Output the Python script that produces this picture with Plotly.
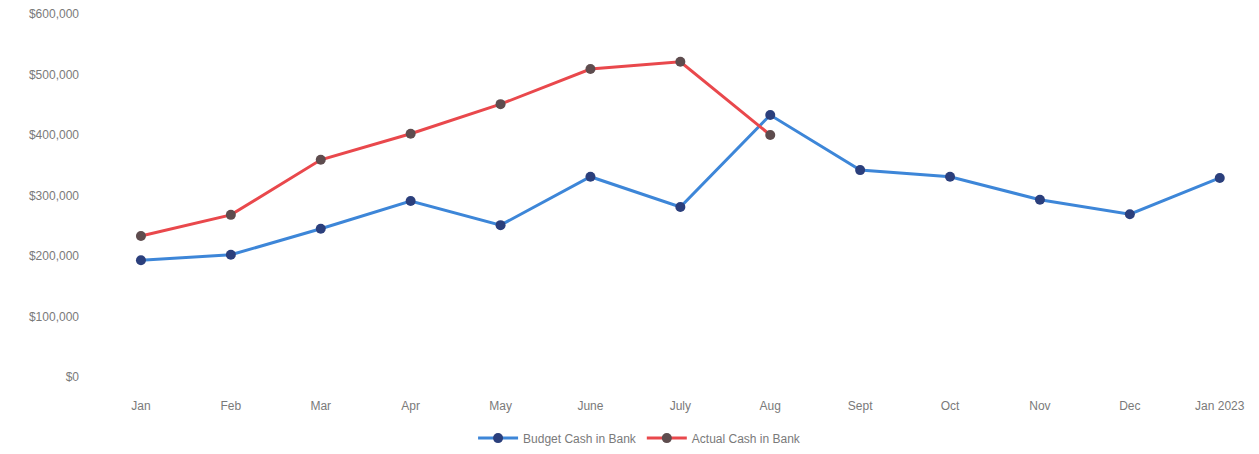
import plotly.graph_objects as go

months = ["Jan", "Feb", "Mar", "Apr", "May", "June", "July", "Aug",
          "Sept", "Oct", "Nov", "Dec", "Jan 2023"]
budget_cash = [193000, 202000, 245000, 291000, 251000, 331000, 281000,
               433000, 342000, 331000, 293000, 269000, 329000]
actual_cash = [233000, 268000, 359000, 402000, 451000, 509000, 521000, 400000]
y_ticks = [0, 100000, 200000, 300000, 400000, 500000, 600000]
y_tick_labels = ["$0", "$100,000", "$200,000", "$300,000", "$400,000",
                 "$500,000", "$600,000"]

fig = go.Figure()
fig.add_trace(go.Scatter(
    x=list(range(len(months))), y=budget_cash, name="Budget Cash in Bank",
    mode="lines+markers",
    line=dict(color="#3d86d8", width=3),
    marker=dict(color="#2b3f7c", size=10),
))
fig.add_trace(go.Scatter(
    x=list(range(len(actual_cash))), y=actual_cash, name="Actual Cash in Bank",
    mode="lines+markers",
    line=dict(color="#e9484c", width=3),
    marker=dict(color="#5e4c4e", size=10),
))

font_family = "Liberation Sans Narrow, Liberation Sans, Arial"
fig.update_layout(
    width=1259, height=454,
    margin=dict(l=96, r=0, t=14, b=77),
    paper_bgcolor="white", plot_bgcolor="white",
    font=dict(family=font_family, size=12, color="#7a7a7a"),
    showlegend=True,
    legend=dict(orientation="h", xref="container", yref="container",
                x=0.508, y=0.035, xanchor="center", yanchor="middle",
                font=dict(size=12, color="#7a7a7a"), itemwidth=40),
    xaxis=dict(
        range=[-0.5, -0.5 + 1163 / 89.9],
        tickmode="array", tickvals=list(range(len(months))), ticktext=months,
        showgrid=False, zeroline=False, showline=False, ticks="",
        ticklabelstandoff=20,
    ),
    yaxis=dict(
        range=[0, 600000],
        tickmode="array", tickvals=y_ticks, ticktext=y_tick_labels,
        showgrid=False, zeroline=False, showline=False, ticks="",
        ticklabelstandoff=16,
    ),
)

fig.write_html("out.html")
